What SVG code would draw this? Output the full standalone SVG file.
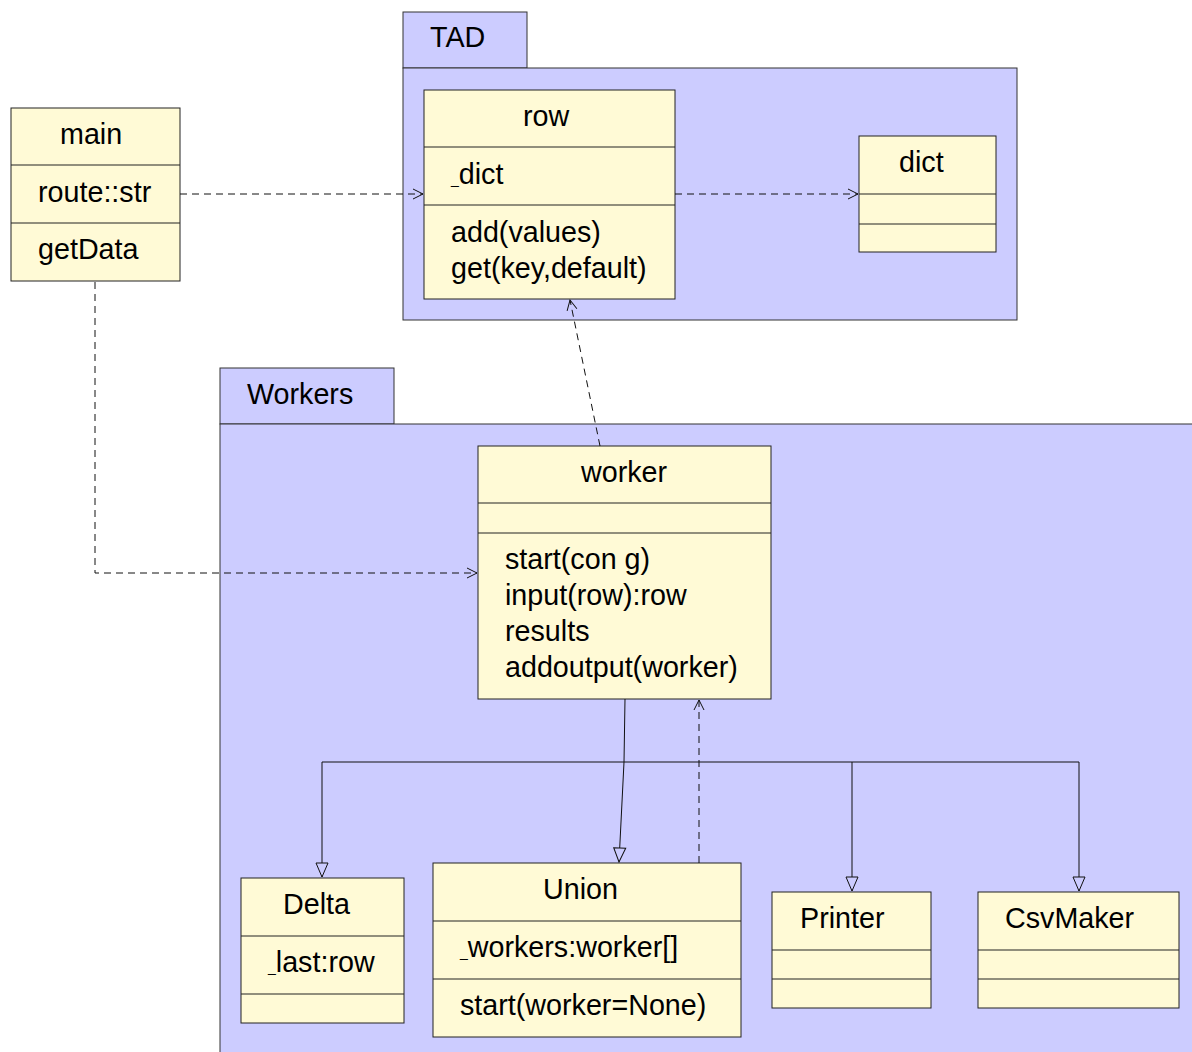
<svg xmlns="http://www.w3.org/2000/svg" width="1192" height="1052" viewBox="0 0 1192 1052">
<style>
.pkg{fill:#ccccff;stroke:#333;stroke-width:1}
.cls{fill:#fffad6;stroke:#222;stroke-width:1}
.div{stroke:#222;stroke-width:1}
text{font-family:"Liberation Sans",Arial,sans-serif;font-size:28.7px;fill:#000}
.u{font-size:14px}
.dep{fill:none;stroke:#111;stroke-width:1;stroke-dasharray:7,5}
.gen{fill:none;stroke:#111;stroke-width:1}
</style>
<defs>
<marker id="open" viewBox="0 0 12 12" refX="11" refY="6" markerWidth="12" markerHeight="12" markerUnits="userSpaceOnUse" orient="auto">
<path d="M1,1 L11,6 L1,11" fill="none" stroke="#111" stroke-width="1"/>
</marker>
<marker id="tri" viewBox="0 0 16 14" refX="15" refY="7" markerWidth="16" markerHeight="14" markerUnits="userSpaceOnUse" orient="auto">
<path d="M1,1 L15,7 L1,13 Z" fill="#ccccff" stroke="#111" stroke-width="1"/>
</marker>
</defs>
<rect width="1192" height="1052" fill="#ffffff"/>

<g id="pkg-TAD">
<rect class="pkg" x="403" y="12" width="124" height="56"/>
<rect class="pkg" x="403" y="68" width="614" height="252"/>
<text x="430" y="47">TAD</text>
</g>

<g id="pkg-Workers">
<rect class="pkg" x="220" y="368" width="174" height="56"/>
<rect class="pkg" x="220" y="424" width="990" height="640"/>
<text x="247" y="404">Workers</text>
</g>

<g id="main">
<rect class="cls" x="11" y="108" width="169" height="173"/>
<line class="div" x1="11" y1="165" x2="180" y2="165"/>
<line class="div" x1="11" y1="223" x2="180" y2="223"/>
<text x="60" y="144">main</text>
<text x="38" y="202">route::str</text>
<text x="38" y="259">getData</text>
</g>

<g id="row">
<rect class="cls" x="424" y="90" width="251" height="209"/>
<line class="div" x1="424" y1="147" x2="675" y2="147"/>
<line class="div" x1="424" y1="205" x2="675" y2="205"/>
<text x="523" y="126">row</text>
<text x="451" y="184"><tspan class="u">_</tspan>dict</text>
<text x="451" y="242">add(values)</text>
<text x="451" y="278">get(key,default)</text>
</g>

<g id="dict">
<rect class="cls" x="859" y="136" width="137" height="116"/>
<line class="div" x1="859" y1="194" x2="996" y2="194"/>
<line class="div" x1="859" y1="224" x2="996" y2="224"/>
<text x="899" y="172">dict</text>
</g>

<g id="worker">
<rect class="cls" x="478" y="446" width="293" height="253"/>
<line class="div" x1="478" y1="503" x2="771" y2="503"/>
<line class="div" x1="478" y1="533" x2="771" y2="533"/>
<text x="581" y="482">worker</text>
<text x="505" y="569">start(con g)</text>
<text x="505" y="605">input(row):row</text>
<text x="505" y="641">results</text>
<text x="505" y="677">addoutput(worker)</text>
</g>

<g id="Delta">
<rect class="cls" x="241" y="878" width="163" height="145"/>
<line class="div" x1="241" y1="936" x2="404" y2="936"/>
<line class="div" x1="241" y1="994" x2="404" y2="994"/>
<text x="283" y="914">Delta</text>
<text x="268" y="972"><tspan class="u">_</tspan>last:row</text>
</g>

<g id="Union">
<rect class="cls" x="433" y="863" width="308" height="174"/>
<line class="div" x1="433" y1="921" x2="741" y2="921"/>
<line class="div" x1="433" y1="979" x2="741" y2="979"/>
<text x="543" y="899">Union</text>
<text x="460" y="957"><tspan class="u">_</tspan>workers:worker[]</text>
<text x="460" y="1015">start(worker=None)</text>
</g>

<g id="Printer">
<rect class="cls" x="772" y="892" width="159" height="116"/>
<line class="div" x1="772" y1="950" x2="931" y2="950"/>
<line class="div" x1="772" y1="979" x2="931" y2="979"/>
<text x="800" y="928">Printer</text>
</g>

<g id="CsvMaker">
<rect class="cls" x="978" y="892" width="201" height="116"/>
<line class="div" x1="978" y1="950" x2="1179" y2="950"/>
<line class="div" x1="978" y1="979" x2="1179" y2="979"/>
<text x="1005" y="928">CsvMaker</text>
</g>

<g id="connectors">
<path class="dep" d="M180,194 L423,194" marker-end="url(#open)"/>
<path class="dep" d="M675,194 L858,194" marker-end="url(#open)"/>
<path class="dep" d="M95,282 L95,573 L477,573" marker-end="url(#open)"/>
<path class="dep" d="M600,446 L570,300" marker-end="url(#open)"/>
<path class="dep" d="M699,863 L699,700" marker-end="url(#open)"/>
<path class="gen" d="M625,699 L624,762"/>
<path class="gen" d="M322,762 L1079,762"/>
<path class="gen" d="M322,762 L322,877" marker-end="url(#tri)"/>
<path class="gen" d="M624,762 L619,862" marker-end="url(#tri)"/>
<path class="gen" d="M852,762 L852,891" marker-end="url(#tri)"/>
<path class="gen" d="M1079,762 L1079,891" marker-end="url(#tri)"/>
</g>
</svg>
